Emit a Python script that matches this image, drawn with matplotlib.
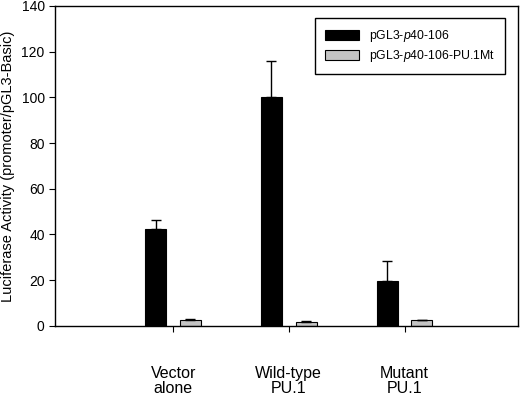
import numpy as np
import matplotlib.pyplot as plt

plt.rcParams['font.family'] = 'Liberation Sans'
plt.rcParams['mathtext.fontset'] = 'custom'
plt.rcParams['mathtext.it'] = 'Liberation Sans:italic'
plt.rcParams['mathtext.rm'] = 'Liberation Sans'

# Data
categories = ['Vector\nalone', 'Wild-type\nPU.1', 'Mutant\nPU.1']
wt_values = [42.5, 100.0, 19.6]
wt_errors = [3.8, 16.0, 8.6]
mt_values = [2.5, 1.8, 2.6]
mt_errors = [0.7, 0.5, 0.1]
series_labels = ['pGL3-$\\mathit{p40}$-106', 'pGL3-$\\mathit{p40}$-106-PU.1Mt']

x = np.arange(1, len(categories) + 1)
width = 0.18
offset = 0.15

fig = plt.figure(figsize=(5.2, 3.95), dpi=100)
ax = fig.add_axes([0.106, 0.175, 0.89, 0.81])

ax.bar(x - offset, wt_values, width, color='black', edgecolor='black', linewidth=0.8,
       yerr=[np.zeros(3), wt_errors], capsize=3.5, error_kw=dict(elinewidth=1, capthick=1),
       label=series_labels[0])
ax.bar(x + offset, mt_values, width, color='#c4c4c4', edgecolor='black', linewidth=0.8,
       yerr=[np.zeros(3), mt_errors], capsize=3.5, error_kw=dict(elinewidth=1, capthick=1),
       label=series_labels[1])

ax.set_xlim(-0.02, 3.98)
ax.set_ylim(0, 140)
ax.set_yticks(np.arange(0, 141, 20))
ax.set_xticks(x)
ax.set_xticklabels(categories, fontsize=11.5, linespacing=1.0)
ax.tick_params(axis='x', length=4, pad=25, direction='out')
ax.tick_params(axis='y', length=4, labelsize=10, direction='out')
ax.set_ylabel('Luciferase Activity (promoter/pGL3-Basic)', fontsize=10.5, labelpad=5)

for s in ax.spines.values():
    s.set_linewidth(1)

leg = ax.legend(loc='upper right', bbox_to_anchor=(0.985, 0.98), fontsize=8.8,
                fancybox=False, edgecolor='black', framealpha=1,
                handlelength=2.8, handleheight=0.9, borderpad=0.8, labelspacing=0.3)
leg.get_frame().set_linewidth(1)

fig.savefig('out.png', dpi=100)
